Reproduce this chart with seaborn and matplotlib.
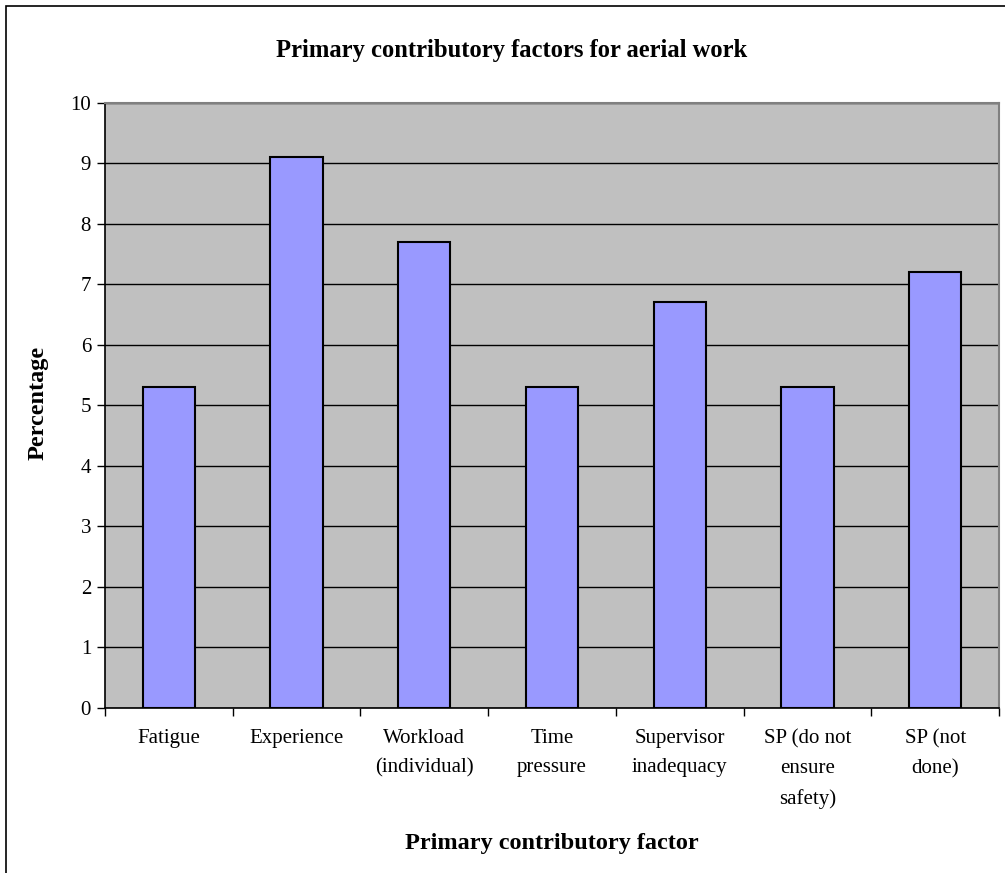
import matplotlib
matplotlib.use("Agg")
import matplotlib.pyplot as plt
import seaborn as sns
import pandas as pd
import numpy as np
from matplotlib.patches import Rectangle

# Datos
factores = ['Fatigue', 'Experience', 'Workload\n(individual)', 'Time\npressure',
            'Supervisor\ninadequacy', 'SP (do not\nensure\nsafety)', 'SP (not\ndone)']
porcentajes = [5.3, 9.1, 7.7, 5.3, 6.7, 5.3, 7.2]
ticks_y = list(range(0, 11))

df = pd.DataFrame({'factor': factores, 'pct': porcentajes})

sns.set_style("white")
plt.rcParams['font.family'] = ['Liberation Serif', 'DejaVu Serif']
plt.rcParams['text.color'] = 'black'
plt.rcParams['xtick.color'] = 'black'
plt.rcParams['ytick.color'] = 'black'

fig = plt.figure(figsize=(10.05, 8.73), dpi=100)
ax = fig.add_axes([105 / 1005, 1 - 708 / 873, (999 - 105) / 1005, (708 - 102.7) / 873])
ax.set_facecolor('#C0C0C0')

sns.barplot(data=df, x='factor', y='pct', color='#9999FF', saturation=1,
            width=0.41, edgecolor='black', linewidth=1.5, zorder=3, ax=ax)

# Grilla horizontal negra como en Excel
ax.set_ylim(0, 10)
ax.set_yticks(ticks_y)
ax.yaxis.grid(True, color='black', linewidth=1, zorder=0)
ax.set_axisbelow(True)
ax.set_xlim(-0.5, len(factores) - 0.5)

ax.tick_params(axis='y', which='major', direction='out', length=6, width=1,
               color='black', labelsize=15, pad=4, left=True)
ax.tick_params(axis='x', which='major', length=0, labelsize=15, pad=15)
ax.set_xticks(np.arange(-0.5, len(factores), 1), minor=True)
ax.tick_params(axis='x', which='minor', direction='out', length=6, width=1,
               color='black', bottom=True)
for lbl in ax.get_xticklabels():
    lbl.set_linespacing(1.75)
    lbl.set_verticalalignment('top')

for s in ['left', 'bottom']:
    ax.spines[s].set_color('black')
    ax.spines[s].set_linewidth(1.2)
for s in ['top', 'right']:
    ax.spines[s].set_color('#808080')
    ax.spines[s].set_linewidth(1.5)

ax.set_xlabel('')
ax.set_ylabel('')
fig.text(552 / 1005, 1 - 844 / 873, 'Primary contributory factor', ha='center', va='center',
         fontsize=17.5, fontweight='bold')
fig.text(38 / 1005, 1 - 403 / 873, 'Percentage', ha='center', va='center', rotation=90,
         fontsize=17.5, fontweight='bold')
fig.text(512 / 1005, 1 - 50 / 873, 'Primary contributory factors for aerial work', ha='center',
         va='center', fontsize=17.7, fontweight='bold')

# Marco del area del grafico (cortado a la derecha y abajo)
fig.patches.append(Rectangle((6 / 1005, -0.1), 1.2, 1.1 - 6 / 873, transform=fig.transFigure,
                             fill=False, edgecolor='black', linewidth=1.2))

fig.savefig('out.png', dpi=100, facecolor='white')
